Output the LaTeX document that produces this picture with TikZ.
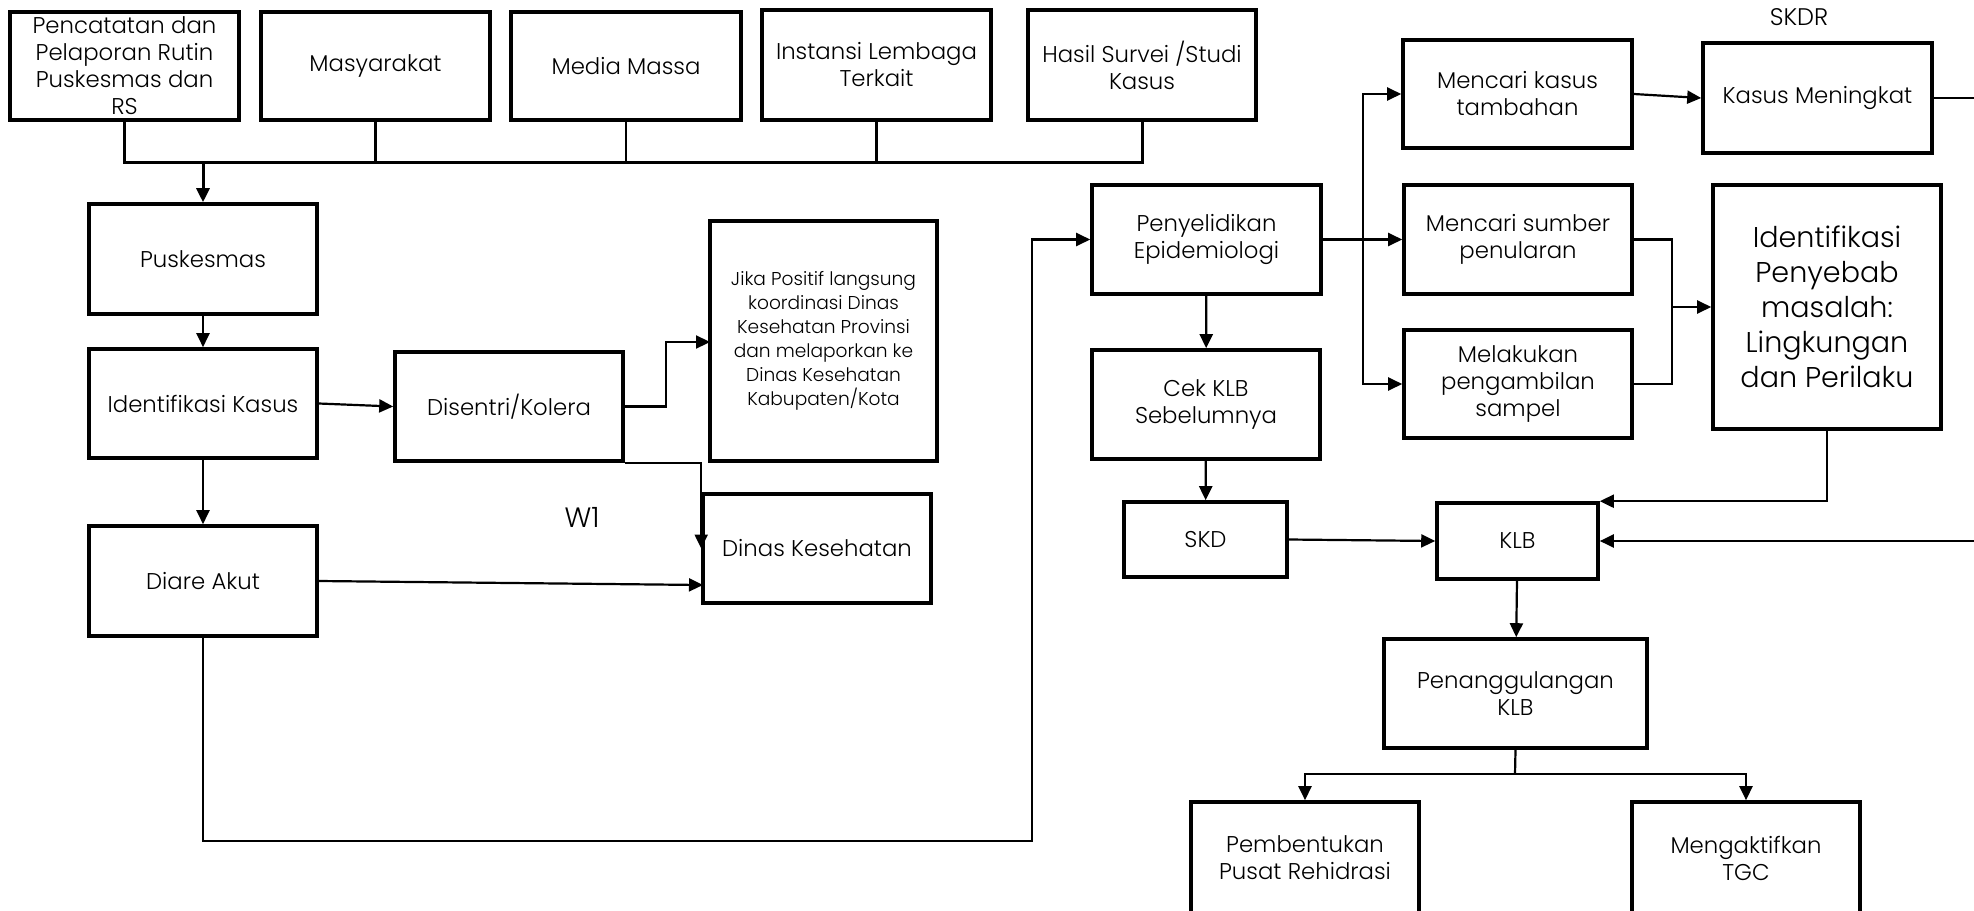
\documentclass[tikz,border=0pt]{standalone}
\usepackage{fontspec}
\setmainfont{Poppins}[UprightFont={* Light}]
\usetikzlibrary{arrows.meta}
\newcommand\flowbox[7][]{\node[box,#1,minimum width={(#5-#3)*0.5pt},minimum height={(#6-#4)*0.5pt}] (#2) at ({(#3+#5)/2},{(#4+#6)/2}) {#7};}
\begin{document}
\begin{tikzpicture}[x=0.5pt,y=-0.5pt,
  box/.style={draw, line width=1.8pt, inner sep=0pt, align=center, font=\fontsize{11.4}{13.5}\selectfont},
  txt/.style={inner sep=0pt, align=center, font=\fontsize{11.4}{13.5}\selectfont},
  small/.style={font=\fontsize{9.3}{12}\selectfont},
  big/.style={font=\fontsize{14.3}{17.5}\selectfont},
  con/.style={line width=1.1pt},
  bus/.style={line width=1.5pt},
  arr/.style={con, -{Triangle[length=7pt,width=6.5pt]}}]
\useasboundingbox (0,0) rectangle (1974,910);
\clip (0,0) rectangle (1974,910);
% top row
\flowbox{b1}{10}{12}{239}{120}{Pencatatan dan\\Pelaporan Rutin\\Puskesmas dan\\RS}
\flowbox{b2}{261}{12}{490}{120}{Masyarakat}
\flowbox{b3}{511}{12}{741}{120}{Media Massa}
\flowbox{b4}{762}{10}{991}{120}{Instansi Lembaga\\Terkait}
\flowbox{b5}{1028}{10}{1256}{120}{Hasil Survei /Studi\\Kasus}
% left column
\flowbox{pusk}{89}{204}{317}{314}{Puskesmas}
\flowbox{ident}{89}{349}{317}{458}{Identifikasi Kasus}
\flowbox{diare}{89}{526}{317}{636}{Diare Akut}
\flowbox{dis}{395}{352}{623}{461}{Disentri/Kolera}
\flowbox[small]{jika}{710}{221}{937}{461}{Jika Positif langsung\\koordinasi Dinas\\Kesehatan Provinsi\\dan melaporkan ke\\Dinas Kesehatan\\Kabupaten/Kota}
\flowbox{dinas}{703}{494}{931}{603}{Dinas Kesehatan}
\node[txt, font=\fontsize{14}{16}\selectfont] (w1) at (582,517) {W1};
% right section
\flowbox{peny}{1092}{185}{1321}{294}{Penyelidikan\\Epidemiologi}
\flowbox{cek}{1092}{350}{1320}{459}{Cek KLB\\Sebelumnya}
\flowbox{skd}{1124}{502}{1287}{577}{SKD}
\flowbox{klb}{1437}{503}{1598}{579}{KLB}
\flowbox{tamb}{1403}{40}{1632}{148}{Mencari kasus\\tambahan}
\flowbox{mening}{1703}{43}{1932}{153}{Kasus Meningkat}
\node[txt, font=\fontsize{12}{14}\selectfont] (skdr) at (1799,17) {SKDR};
\flowbox{sumber}{1404}{185}{1632}{294}{Mencari sumber\\penularan}
\flowbox{sampel}{1404}{330}{1632}{438}{Melakukan\\pengambilan\\sampel}
\flowbox[big]{penyebab}{1713}{185}{1941}{429}{Identifikasi\\Penyebab\\masalah:\\Lingkungan\\dan Perilaku}
\flowbox{penang}{1384}{639}{1647}{748}{Penanggulangan\\KLB}
\flowbox{pemb}{1191}{802}{1419}{960}{}
\node[txt] (pembt) at (1305,858) {Pembentukan\\Pusat Rehidrasi};
\flowbox{tgc}{1632}{802}{1860}{960}{}
\node[txt] (tgct) at (1746,858) {Mengaktifkan\\TGC};
% coordinates
\coordinate (busL) at (124.5,162);
\coordinate (busR) at (1142,162);
\coordinate (busP) at (203,162);
\coordinate (j0) at (666,406.5);
\coordinate (j1) at (666,342);
\coordinate (j2) at (710,342);
\coordinate (dk) at (703,585);
\coordinate (l1) at (203,841);
\coordinate (l2) at (1032,841);
\coordinate (br) at (1363,239.5);
\coordinate (m1) at (1672,239.5);
\coordinate (m2) at (1672,384);
\coordinate (m3) at (1672,307);
\coordinate (edge1) at (1980,98);
\coordinate (edge2) at (1980,541);
\coordinate (sp) at (1515,774);
% bus
\draw[bus] (b1.south) -- (busL) -- (busR) -- (b5.south);
\draw[con] (b2.south) -- (b2.south |- busL);
\draw[con] (b3.south) -- (b3.south |- busL);
\draw[con] (b4.south) -- (b4.south |- busL);
\draw[arr, bus] (busP) -- (pusk.north);
% left connectors
\draw[arr] (pusk) -- (ident);
\draw[arr] (ident) -- (diare);
\draw[arr] (ident.east) -- (dis.west);
\draw[arr] (dis.east) -- (j0) -- (j1) -- (j2);
\draw[arr] (dis.south east) -| (dinas.west);
\draw[arr] (diare.east) -- (dk);
\draw[arr] (diare.south) -- (l1) -- (l2) |- (peny.west);
% right connectors
\draw[arr] (peny.east) -- (sumber.west);
\draw[arr] (br) |- (tamb.west);
\draw[arr] (br) |- (sampel.west);
\draw[arr] (tamb.east) -- (mening.west);
\draw[con] (mening.east) -- (edge1);
\draw[con] (sumber.east) -- (m1) -- (m2) -- (sampel.east);
\draw[arr] (m3) -- (penyebab.west);
\draw[arr] (penyebab.south) |- (klb.north east);
\draw[arr] (edge2) -- (klb.east);
\draw[arr] (skd.east) -- (klb.west);
\draw[arr] (peny) -- (cek);
\draw[arr] (cek) -- (skd);
\draw[arr] (klb) -- (penang);
\draw[con] (penang.south) -- (sp);
\draw[arr] (sp) -| (pemb.north);
\draw[arr] (sp) -| (tgc.north);
\end{tikzpicture}
\end{document}
